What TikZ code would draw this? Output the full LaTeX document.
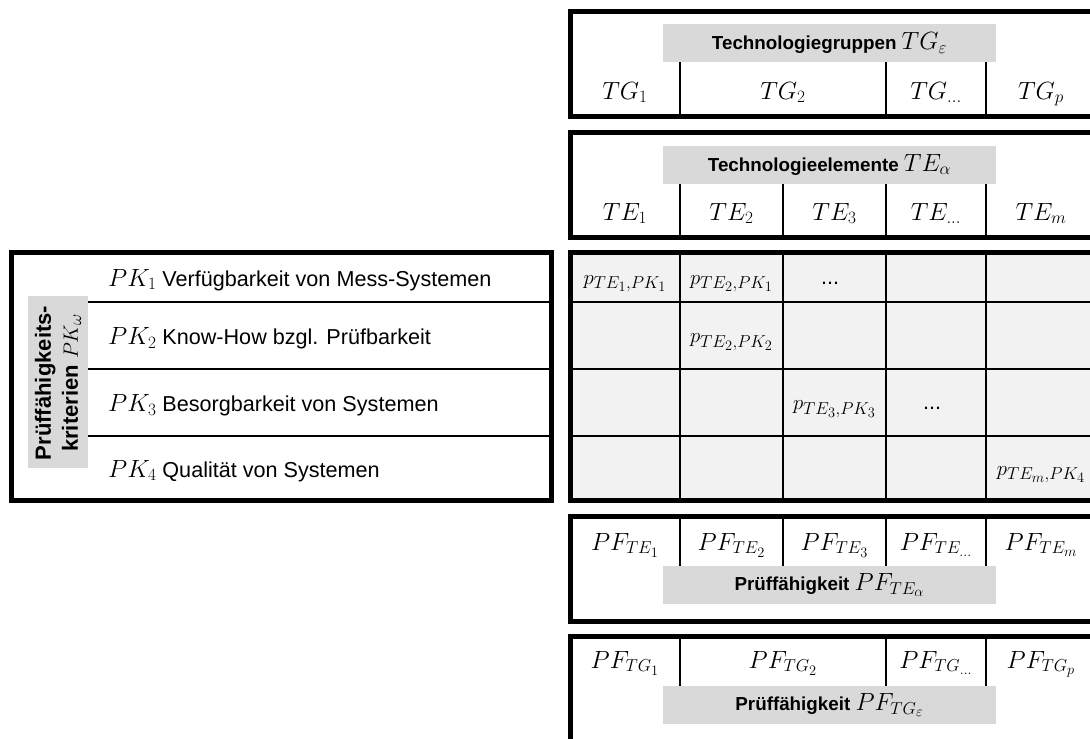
\documentclass[tikz,border=0pt]{standalone}
\usepackage[no-math]{fontspec}
\setmainfont{Liberation Sans}
\DeclareMathSizes{23}{23}{19}{15}
\DeclareMathSizes{21}{21}{17}{14}
\definecolor{hdrgray}{HTML}{D9D9D9}
\definecolor{cellgray}{HTML}{F2F2F2}
\newcommand\mth[1]{{\fontsize{23}{27}\selectfont$#1$}}
\newcommand\smth[1]{{\fontsize{21}{25}\selectfont$#1$}}
\newcommand\hfont{\bfseries\fontsize{18.8}{22}\selectfont}
\newcommand\rfont{\fontsize{21.6}{25}\selectfont}
\newcommand\lfont{\bfseries\fontsize{22}{27}\selectfont}
\begin{document}
\begin{tikzpicture}[x=1pt,y=-1pt,
  frame/.style={draw=black,line width=5pt},
  rule/.style={draw=black,line width=2pt},
  hdr/.style={fill=hdrgray,inner sep=0pt,minimum width=333pt,minimum height=38pt,font=\hfont},
  cell/.style={anchor=base,inner sep=0pt},
  crit/.style={anchor=base west,inner sep=0pt,font=\rfont}]
\path[use as bounding box] (0,0) rectangle (1090,739);
\clip (0,0) rectangle (1090,739);

% technology groups
\draw[frame] (570,11) rectangle (1096,116);
\node[hdr] (tgh) at (829.5,43) {Technologiegruppen \mth{TG_{\varepsilon}}};
\foreach \x in {680,886,986} \draw[rule] (\x,62) -- (\x,116);
\node[cell] (tg1) at (625,99) {\mth{TG_1}};
\node[cell] (tg2) at (783,99) {\mth{TG_2}};
\node[cell] (tgd) at (936,99) {\mth{TG_{\ldots}}};
\node[cell] (tgp) at (1041,99) {\mth{TG_p}};

% technology elements
\draw[frame] (570,132.5) rectangle (1096,237);
\node[hdr] (teh) at (829.5,164.5) {Technologieelemente \mth{TE_{\alpha}}};
\foreach \x in {680,783,886,986} \draw[rule] (\x,183.5) -- (\x,237);
\node[cell] (te1) at (625,220) {\mth{TE_1}};
\node[cell] (te2) at (731.5,220) {\mth{TE_2}};
\node[cell] (te3) at (834.5,220) {\mth{TE_3}};
\node[cell] (ted) at (936,220) {\mth{TE_{\ldots}}};
\node[cell] (tem) at (1041,220) {\mth{TE_m}};

% criteria list
\draw[frame] (11,252.5) rectangle (551.5,500.5);
\foreach \y in {302,369,436} \draw[rule] (88,\y) -- (551.5,\y);
\node[fill=hdrgray,minimum width=60pt,minimum height=172pt,inner sep=0pt] (pkbg) at (58,382) {};
\node[rotate=90,align=center,font=\lfont,inner sep=0pt] (pklab) at (58,383)
  {Prüffähigkeits-\\kriterien \smth{PK_{\omega}}};
\node[crit] (pk1) at (108,286) {\mth{PK_1}\hspace{6pt}Verfügbarkeit von Mess-Systemen};
\node[crit] (pk2) at (108,344.5) {\mth{PK_2}\hspace{6pt}Know-How bzgl. Prüfbarkeit};
\node[crit] (pk3) at (108,411.5) {\mth{PK_3}\hspace{6pt}Besorgbarkeit von Systemen};
\node[crit] (pk4) at (108,477) {\mth{PK_4}\hspace{6pt}Qualität von Systemen};

% evaluation matrix
\fill[cellgray] (570,252.5) rectangle (1096,500.5);
\foreach \x in {680,783,886,986} \draw[rule] (\x,252.5) -- (\x,500.5);
\foreach \y in {302,369,436} \draw[rule] (570,\y) -- (1096,\y);
\draw[frame] (570,252.5) rectangle (1096,500.5);
\node[cell] (p11) at (625,284) {\smth{p_{TE_1,PK_1}}};
\node[cell] (p21) at (731.5,284) {\smth{p_{TE_2,PK_1}}};
\node[cell,font=\rfont] (d1) at (830,284) {...};
\node[cell] (p22) at (731.5,342.5) {\smth{p_{TE_2,PK_2}}};
\node[cell] (p33) at (834.5,409.5) {\smth{p_{TE_3,PK_3}}};
\node[cell,font=\rfont] (d3) at (932,409.5) {...};
\node[cell] (pm4) at (1041,475) {\smth{p_{TE_m,PK_4}}};

% testability per element
\draw[frame] (570,516) rectangle (1096,621);
\foreach \x in {680,783,886,986} \draw[rule] (\x,516) -- (\x,566);
\node[cell] (pf1) at (625,550) {\mth{PF_{TE_1}}};
\node[cell] (pf2) at (731.5,550) {\mth{PF_{TE_2}}};
\node[cell] (pf3) at (834.5,550) {\mth{PF_{TE_3}}};
\node[cell] (pfd) at (936,550) {\mth{PF_{TE_{\ldots}}}};
\node[cell] (pfm) at (1041,550) {\mth{PF_{TE_m}}};
\node[hdr] (pfh) at (829.5,585) {Prüffähigkeit \mth{PF_{TE_{\alpha}}}};

% testability per group
\draw[frame] (570,636) rectangle (1096,742);
\foreach \x in {680,886,986} \draw[rule] (\x,636) -- (\x,686);
\node[cell] (pg1) at (625,668) {\mth{PF_{TG_1}}};
\node[cell] (pg2) at (783,668) {\mth{PF_{TG_2}}};
\node[cell] (pgd) at (936,668) {\mth{PF_{TG_{\ldots}}}};
\node[cell] (pgp) at (1041,668) {\mth{PF_{TG_p}}};
\node[hdr] (pgh) at (829.5,705) {Prüffähigkeit \mth{PF_{TG_{\varepsilon}}}};
\end{tikzpicture}
\end{document}
